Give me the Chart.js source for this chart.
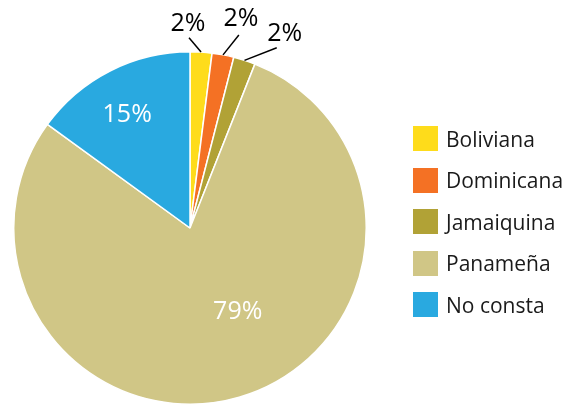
<!DOCTYPE html>
<html lang="es">
<head>
    <meta charset="UTF-8">
    <title>Nacionalidad</title>
    <style>
        body {
            margin: 0;
            background: #fff;
            font-family: 'Open Sans', sans-serif;
        }
        .wrap {
            position: relative;
            width: 565px;
            height: 407px;
        }
        #pie {
            position: absolute;
            left: 0;
            top: 0;
        }
        .legend {
            position: absolute;
            left: 413px;
            top: 126px;
            margin: 0;
            padding: 0;
            list-style: none;
        }
        .legend li {
            display: flex;
            align-items: center;
            height: 25px;
            margin-bottom: 16.5px;
            font-size: 21px;
            color: #1a1a1a;
        }
        .legend span {
            display: inline-block;
            width: 25px;
            height: 25px;
            margin-right: 8px;
        }
    </style>
</head>
<body>
    <div class="wrap">
        <canvas id="pie" width="565" height="407"></canvas>
        <ul class="legend" id="legend"></ul>
    </div>

    <script src="https://cdn.jsdelivr.net/npm/chart.js"></script>
    <script>
        const categories = ['Boliviana', 'Dominicana', 'Jamaiquina', 'Panameña', 'No consta'];
        const percents = [2, 2, 2, 79, 15];
        const colors = ['#FEDC1B', '#F47124', '#B1A236', '#D0C686', '#29A9E0'];

        // where each percentage label sits: angle in degrees (0 = 3 o'clock, clockwise)
        // and distance as a fraction of the radius; outside labels get a leader line
        const labelSpots = [
            { angle: -90.6, dist: 1.16, lineFrom: { angle: -90.3, dist: 1.08 }, color: '#000' },
            { angle: -76.3, dist: 1.22, lineFrom: { angle: -75.8, dist: 1.13 }, color: '#000' },
            { angle: -64.0, dist: 1.226, lineFrom: { angle: -64.3, dist: 1.135 }, color: '#000' },
            { angle: 60.5, dist: 0.55, color: '#fff' },
            { angle: 241, dist: 0.735, color: '#fff' }
        ];

        const pieLabels = {
            id: 'pieLabels',
            afterDatasetsDraw(chart) {
                const ctx = chart.ctx;
                const arcs = chart.getDatasetMeta(0).data;
                ctx.save();
                ctx.font = '25px "Open Sans", sans-serif';
                ctx.textAlign = 'center';
                ctx.textBaseline = 'middle';
                arcs.forEach((arc, i) => {
                    const spot = labelSpots[i];
                    const r = arc.outerRadius;
                    const at = (deg, f) => {
                        const a = deg * Math.PI / 180;
                        return [arc.x + Math.cos(a) * r * f, arc.y + Math.sin(a) * r * f];
                    };
                    if (spot.lineFrom) {
                        const mid = (arc.startAngle + arc.endAngle) / 2;
                        const p0 = at(spot.lineFrom.angle, spot.lineFrom.dist);
                        ctx.beginPath();
                        ctx.moveTo(p0[0], p0[1]);
                        ctx.lineTo(arc.x + Math.cos(mid) * r, arc.y + Math.sin(mid) * r);
                        ctx.strokeStyle = '#000';
                        ctx.lineWidth = 1.5;
                        ctx.stroke();
                    }
                    const p = at(spot.angle, spot.dist);
                    ctx.fillStyle = spot.color;
                    ctx.fillText(percents[i] + '%', p[0], p[1]);
                });
                ctx.restore();
            }
        };

        new Chart(document.getElementById('pie'), {
            type: 'pie',
            data: {
                labels: categories,
                datasets: [{
                    data: percents,
                    backgroundColor: colors,
                    borderColor: '#fff',
                    borderWidth: 1.5
                }]
            },
            options: {
                responsive: false,
                animation: false,
                layout: { padding: { left: 13, top: 51, right: 198, bottom: 2 } },
                plugins: {
                    legend: { display: false },
                    tooltip: { enabled: false }
                }
            },
            plugins: [pieLabels]
        });

        const legend = document.getElementById('legend');
        categories.forEach((name, i) => {
            const li = document.createElement('li');
            li.innerHTML = '<span style="background:' + colors[i] + '"></span>' + name;
            legend.appendChild(li);
        });
    </script>
</body>
</html>
